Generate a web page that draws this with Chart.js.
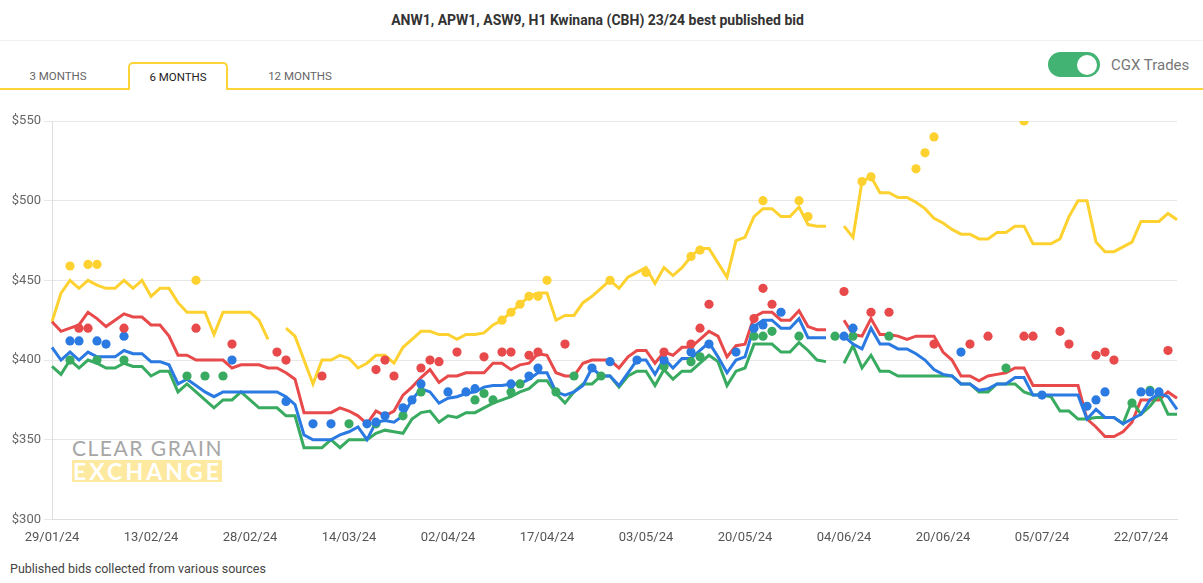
<!DOCTYPE html>
<html>
<head>
<meta charset="utf-8">
<title>Kwinana best published bid</title>
<script src="https://cdn.jsdelivr.net/npm/chart.js@4.4.1/dist/chart.umd.min.js"></script>
<style>
  body { margin: 0; background: #fff; font-family: Roboto, "Noto Sans", sans-serif; }
  #page { position: relative; width: 1203px; height: 583px; overflow: hidden; }
  #title { position: absolute; left: 0; top: 12px; width: 1195px; text-align: center;
           font-weight: bold; font-size: 14px; color: #333; }
  #sep { position: absolute; left: 0; top: 40px; width: 1203px; height: 1px; background: #f1f1f1; }
  #tabline { position: absolute; left: 0; top: 88px; width: 1203px; height: 2px; background: #fdd33a; }
  .tab { position: absolute; top: 69px; font-size: 11.5px; color: #666; text-align: center; }
  #tabActive { position: absolute; left: 128px; top: 62px; width: 96px; height: 26px;
               border: 2px solid #fdd33a; border-bottom: none; border-radius: 5px 5px 0 0;
               background: #fff; font-size: 11.5px; color: #222; text-align: center;
               line-height: 27px; box-sizing: content-box; }
  #toggle { position: absolute; left: 1048px; top: 52px; width: 52px; height: 25px;
            border-radius: 13px; background: #42b373; }
  #knob { position: absolute; left: 29px; top: 2.5px; width: 20px; height: 20px;
          border-radius: 50%; background: #fff; }
  #cgx { position: absolute; left: 1111px; top: 56px; font-size: 15px; color: #777; }
  #wrap { position: absolute; left: 0; top: 108px; width: 1203px; height: 451px; }
  #wm { position: absolute; left: 72px; top: 439px; width: 150px; }
  #wm1 { font-family: Lato, sans-serif; font-size: 21px; line-height: 18px; height: 18px; color: #a6a6a6;
         white-space: nowrap; display: inline-block; }
  #wm2box { margin-top: 0px; height: 22px; background: #fde9a0; }
  #wm2 { color: #fff; font-family: Lato, sans-serif; font-weight: bold; font-size: 23px;
         line-height: 22px; white-space: nowrap; display: inline-block; padding-left: 1px; }
  #foot { position: absolute; left: 10px; top: 561px; font-size: 12.5px; color: #444; }
</style>
</head>
<body>
<div id="page">
  <div id="title">ANW1, APW1, ASW9, H1 Kwinana (CBH) 23/24 best published bid</div>
  <div id="sep"></div>
  <div id="tabline"></div>
  <div class="tab" style="left:18px;width:80px">3 MONTHS</div>
  <div id="tabActive">6 MONTHS</div>
  <div class="tab" style="left:258px;width:84px">12 MONTHS</div>
  <div id="toggle"><div id="knob"></div></div>
  <div id="cgx">CGX Trades</div>
  <div id="wm"><div id="wm1">CLEAR GRAIN</div><div id="wm2box"><span id="wm2">EXCHANGE</span></div></div>
  <div id="wrap"><canvas id="chart"></canvas></div>
  <div id="foot">Published bids collected from various sources</div>
</div>
<script>
// -------- DATA --------
// trading days shown on the 6 month view
const dates = [
  "29/01/24","30/01/24","31/01/24","01/02/24","02/02/24","05/02/24","06/02/24","07/02/24","08/02/24","09/02/24","12/02/24",
  "13/02/24","14/02/24","15/02/24","16/02/24","19/02/24","20/02/24","21/02/24","22/02/24","23/02/24","26/02/24","27/02/24",
  "28/02/24","29/02/24","01/03/24","04/03/24","05/03/24","06/03/24","07/03/24","08/03/24","11/03/24","12/03/24","13/03/24",
  "14/03/24","15/03/24","18/03/24","19/03/24","20/03/24","21/03/24","22/03/24","25/03/24","26/03/24","27/03/24","28/03/24",
  "02/04/24","03/04/24","04/04/24","05/04/24","08/04/24","09/04/24","10/04/24","11/04/24","12/04/24","15/04/24","16/04/24",
  "17/04/24","18/04/24","19/04/24","22/04/24","23/04/24","24/04/24","26/04/24","29/04/24","30/04/24","01/05/24","02/05/24",
  "03/05/24","06/05/24","07/05/24","08/05/24","09/05/24","10/05/24","13/05/24","14/05/24","15/05/24","16/05/24","17/05/24",
  "20/05/24","21/05/24","22/05/24","23/05/24","24/05/24","27/05/24","28/05/24","29/05/24","30/05/24","31/05/24","03/06/24",
  "04/06/24","05/06/24","06/06/24","07/06/24","10/06/24","11/06/24","12/06/24","13/06/24","17/06/24","18/06/24","19/06/24",
  "20/06/24","21/06/24","24/06/24","25/06/24","26/06/24","27/06/24","28/06/24","01/07/24","02/07/24","03/07/24","04/07/24",
  "05/07/24","08/07/24","09/07/24","10/07/24","11/07/24","12/07/24","15/07/24","16/07/24","17/07/24","18/07/24","19/07/24",
  "22/07/24","23/07/24","24/07/24","25/07/24","26/07/24"
];

// best published bid, $/t
const anw1Bid = [
  424,442,450,445,450,447,445,445,450,445,450,
  440,445,445,436,430,430,430,416,430,430,430,
  430,425,413,null,420,415,400,385,400,400,403,
  401,395,398,403,403,398,408,413,418,418,416,
  416,413,416,416,417,422,425,430,435,440,442,
  442,425,428,428,436,440,445,450,445,452,455,
  458,448,458,453,458,465,470,470,461,452,475,
  477,490,495,495,490,490,496,485,484,484,null,
  484,477,512,515,505,505,502,502,499,495,489,
  486,482,479,479,476,476,480,480,484,484,473,
  473,473,476,490,500,500,474,468,468,471,474,
  487,487,487,492,488
];
const h1Bid = [
  424,418,420,422,430,426,421,425,429,427,427,
  422,422,415,403,403,400,400,400,400,395,397,
  397,397,395,395,392,388,367,367,367,367,370,
  368,365,360,368,365,368,378,383,389,394,386,
  390,390,392,392,392,398,398,394,397,398,404,
  403,392,390,390,398,400,400,400,395,402,406,
  406,398,405,403,408,408,413,418,415,402,409,
  410,427,430,430,425,425,431,421,419,419,null,
  425,416,415,426,416,416,415,413,415,415,415,
  405,400,390,390,387,390,391,392,395,395,384,
  384,384,384,384,384,363,358,352,352,355,361,
  375,375,375,380,376
];
const apw1Bid = [
  408,400,405,400,405,402,402,402,406,404,404,
  399,399,397,385,388,384,380,377,380,380,380,
  380,380,380,380,377,372,353,350,350,350,353,
  355,358,350,361,362,361,365,375,382,380,373,
  376,377,379,380,383,384,384,385,385,388,392,
  392,380,378,380,384,395,390,390,384,392,400,
  400,391,401,395,401,401,406,411,402,392,400,
  402,421,425,425,420,420,426,414,414,414,null,
  415,410,407,420,410,410,407,407,404,400,394,
  391,390,385,385,381,382,385,385,389,389,378,
  378,378,378,378,378,363,369,364,364,360,363,
  366,375,379,377,369
];
const asw9Bid = [
  396,391,400,395,400,398,395,395,398,396,396,
  390,393,393,380,385,380,375,370,375,375,380,
  375,370,370,370,365,365,345,345,345,350,345,
  350,350,350,354,356,355,354,363,367,368,361,
  365,364,367,367,370,373,375,377,380,382,387,
  387,379,373,380,385,385,390,390,383,390,393,
  393,384,394,388,393,393,398,403,399,384,393,
  395,410,410,410,405,405,411,406,400,399,null,
  398,409,395,403,393,393,390,390,390,390,390,
  390,390,385,385,380,380,385,385,385,380,378,
  378,377,368,368,363,363,364,364,364,360,374,
  366,371,378,366,366
];

// CGX trades [date, $/t]
const anw1Trades = [
  ["31/01/24",459],["02/02/24",460],["05/02/24",460],["20/02/24",450],["10/04/24",425],["11/04/24",430],
  ["12/04/24",435],["15/04/24",440],["16/04/24",440],["17/04/24",450],["29/04/24",450],["03/05/24",455],
  ["10/05/24",465],["13/05/24",469],["22/05/24",500],["28/05/24",500],["29/05/24",490],["06/06/24",512],
  ["07/06/24",515],["17/06/24",520],["18/06/24",530],["19/06/24",540],["03/07/24",550]
];
const h1Trades = [
  ["01/02/24",420],["02/02/24",420],["08/02/24",420],["20/02/24",420],["26/02/24",410],["04/03/24",405],
  ["05/03/24",400],["11/03/24",390],["19/03/24",394],["20/03/24",400],["21/03/24",390],["26/03/24",395],
  ["27/03/24",400],["28/03/24",399],["03/04/24",405],["08/04/24",402],["10/04/24",405],["11/04/24",405],
  ["15/04/24",403],["16/04/24",405],["19/04/24",410],["07/05/24",405],["10/05/24",410],["13/05/24",420],
  ["14/05/24",435],["21/05/24",426],["22/05/24",445],["23/05/24",435],["04/06/24",443],["07/06/24",430],
  ["11/06/24",430],["19/06/24",410],["25/06/24",410],["27/06/24",415],["03/07/24",415],["04/07/24",415],
  ["09/07/24",418],["10/07/24",410],["15/07/24",403],["16/07/24",405],["17/07/24",400],["25/07/24",406]
];
const apw1Trades = [
  ["31/01/24",412],["01/02/24",412],["05/02/24",412],["06/02/24",410],["08/02/24",415],["26/02/24",400],
  ["05/03/24",374],["08/03/24",360],["12/03/24",360],["18/03/24",360],["19/03/24",361],["20/03/24",365],
  ["22/03/24",370],["25/03/24",375],["26/03/24",385],["02/04/24",380],["04/04/24",380],["05/04/24",382],
  ["11/04/24",385],["15/04/24",390],["16/04/24",395],["24/04/24",395],["29/04/24",399],["02/05/24",400],
  ["07/05/24",400],["10/05/24",405],["14/05/24",410],["17/05/24",405],["21/05/24",420],["22/05/24",422],
  ["24/05/24",430],["04/06/24",415],["05/06/24",420],["24/06/24",405],["05/07/24",378],["12/07/24",371],
  ["15/07/24",375],["16/07/24",380],["22/07/24",380],["23/07/24",380],["24/07/24",380]
];
const asw9Trades = [
  ["31/01/24",400],["05/02/24",400],["08/02/24",400],["19/02/24",390],["21/02/24",390],["23/02/24",390],
  ["14/03/24",360],["19/03/24",360],["22/03/24",365],["26/03/24",380],["05/04/24",375],["08/04/24",379],
  ["09/04/24",375],["11/04/24",380],["12/04/24",385],["18/04/24",380],["22/04/24",390],["26/04/24",390],
  ["07/05/24",396],["10/05/24",399],["13/05/24",402],["21/05/24",415],["22/05/24",415],["23/05/24",418],
  ["28/05/24",415],["03/06/24",415],["05/06/24",415],["11/06/24",415],["01/07/24",395],["19/07/24",373],
  ["23/07/24",381]
];

const yTicks = [300, 350, 400, 450, 500, 550];

// -------- COLOURS --------
const cores = {
  anw1: "#fdd230",
  h1: "#e84a4b",
  apw1: "#2a7ae2",
  asw9: "#39ab61"
};

function linha(label, data, cor) {
  return {
    label, data,
    borderColor: cor, backgroundColor: cor,
    borderWidth: 3, pointRadius: 0, tension: 0, fill: false
  };
}

function trades(label, lista, cor) {
  return {
    label,
    data: lista.map(([d, v]) => ({ x: d, y: v })),
    showLine: false,
    pointRadius: 4.6, pointBorderWidth: 0,
    pointBackgroundColor: cor, borderColor: cor
  };
}

// stretch the watermark words to the logo width
function espalhar(el, largura) {
  const n = el.textContent.length;
  const w = el.getBoundingClientRect().width;
  el.style.letterSpacing = ((largura - w) / n) + "px";
}
espalhar(document.getElementById("wm1"), 151);
espalhar(document.getElementById("wm2"), 150);

// -------- CHART --------
const ctx = document.getElementById("chart").getContext("2d");
const chart = new Chart(ctx, {
  type: "line",
  data: {
    labels: dates,
    datasets: [
      trades("ANW1 trades", anw1Trades, cores.anw1),
      trades("H1 trades", h1Trades, cores.h1),
      trades("APW1 trades", apw1Trades, cores.apw1),
      trades("ASW9 trades", asw9Trades, cores.asw9),
      linha("APW1", apw1Bid, cores.apw1),
      linha("ASW9", asw9Bid, cores.asw9),
      linha("H1", h1Bid, cores.h1),
      linha("ANW1", anw1Bid, cores.anw1)
    ]
  },
  options: {
    responsive: true,
    maintainAspectRatio: false,
    animation: false,
    layout: { padding: { top: 13, right: 26, bottom: 10, left: 0 } },
    plugins: { legend: { display: false }, tooltip: { enabled: false } },
    scales: {
      x: {
        grid: { display: false },
        border: { color: "#dedede" },
        ticks: {
          autoSkip: false, maxRotation: 0, padding: 3,
          color: "#555", font: { family: "Roboto", size: 13 },
          callback: (v, i) => (i % 11 === 0 ? dates[i] : "")
        }
      },
      y: {
        min: yTicks[0], max: yTicks[yTicks.length - 1],
        afterBuildTicks: (s) => { s.ticks = yTicks.map((v) => ({ value: v })); },
        afterFit: (s) => { s.width = 52; },
        grid: { color: "#e7e7e7", tickLength: 8 },
        border: { color: "#dedede" },
        ticks: {
          padding: 3, color: "#666", font: { family: "Roboto", size: 13 },
          callback: (v) => "$" + v
        }
      }
    }
  }
});
</script>
</body>
</html>
